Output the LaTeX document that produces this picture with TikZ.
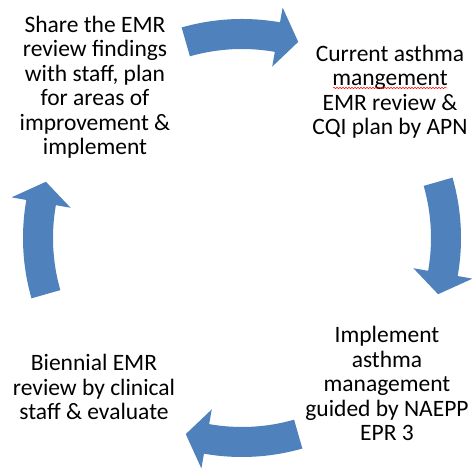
\documentclass[tikz,border=0pt]{standalone}
\usepackage{fontspec}
\setmainfont{Carlito}
\usetikzlibrary{decorations.pathmorphing}
\definecolor{arrowblue}{RGB}{79,129,189}
\begin{document}
\begin{tikzpicture}[x=1pt,y=1pt,
  lbl/.style={align=center, font=\fontsize{23.5}{24.5}\selectfont, inner sep=0pt, anchor=base},
  cyc/.style={fill=arrowblue},
  spell/.style={draw=red, line width=0.5pt, decorate, decoration={snake, amplitude=0.7pt, segment length=3pt}}]
\useasboundingbox (0,0) rectangle (474,470);
\node[lbl] (share) at (95,315) {Share the EMR\\review findings\\with staff, plan\\for areas of\\improvement \&\\implement};
\node[lbl] (current) at (390,335.1) {Current asthma\\mangement\\EMR review \&\\CQI plan by APN};
\node[lbl] (implement) at (387,29) {Implement\\asthma\\management\\guided by NAEPP\\EPR 3};
\node[lbl] (biennial) at (94,50) {Biennial EMR\\review by clinical\\staff \& evaluate};
\coordinate (sa) at (333,382);
\coordinate (sb) at (447,382);
\path[spell] (sa) -- (sb);
\begin{scope}[shift={(242,232)}]
\foreach \t in {90,0,-90,180} {
  \fill[cyc] ({\t+16}:219) arc[start angle={\t+16}, end angle={\t-10}, radius=219]
    -- ({\t-10}:234) -- ({\t-16}:204) -- ({\t-10}:174) -- ({\t-10}:189)
    arc[start angle={\t-10}, end angle={\t+16}, radius=189] -- cycle;
}
\end{scope}
\end{tikzpicture}
\end{document}
